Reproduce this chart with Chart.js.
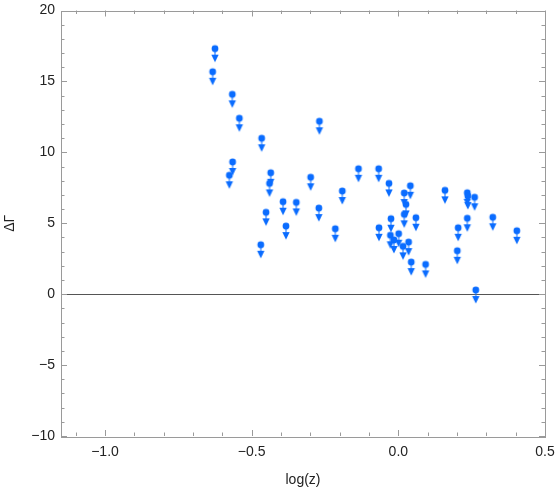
<!DOCTYPE html>
<html>
<head>
<meta charset="utf-8">
<script src="https://cdn.jsdelivr.net/npm/chart.js@4"></script>
<style>
  html, body { margin: 0; padding: 0; background: #fff; }
  #wrap { width: 556px; height: 492px; }
</style>
</head>
<body>
<div id="wrap"><canvas id="myChart" width="556" height="492"></canvas></div>
<script>
// log(z) of each source
var logz = [-0.625, -0.633, -0.566, -0.542, -0.466, -0.565, -0.576, -0.435, -0.439, -0.393,
            -0.348, -0.451, -0.383, -0.469, -0.269, -0.299, -0.136, -0.067, -0.032, -0.191,
            -0.271, -0.215, -0.066, 0.041, 0.020, 0.026, 0.020, 0.060, -0.025, -0.027,
            0.001, -0.015, 0.035, 0.016, 0.044, 0.093, 0.159, 0.235, 0.237, 0.260,
            0.235, 0.322, 0.204, 0.404, 0.201, 0.264];
// upper limits on delta gamma
var dgamma = [17.31, 15.68, 14.09, 12.40, 10.99, 9.32, 8.38, 8.56, 7.81, 6.52,
              6.47, 5.77, 4.80, 3.48, 12.19, 8.24, 8.84, 8.84, 7.81, 7.27,
              6.07, 4.61, 4.68, 7.64, 7.13, 6.33, 5.63, 5.39, 5.32, 4.15,
              4.26, 3.82, 3.67, 3.37, 2.26, 2.10, 7.32, 7.15, 6.92, 6.83,
              5.35, 5.42, 4.68, 4.47, 3.06, 0.29];

var xTicks = [-1.0, -0.5, 0.0, 0.5];
var yTicks = [-10, -5, 0, 5, 10, 15, 20];

var blue = '#0a6cff';
var ink = '#222';
var frameCol = '#9a9a9a';

var pts = [];
for (var i = 0; i < logz.length; i++) {
    pts.push({x: logz[i], y: dgamma[i]});
}

// marker: dot with a down arrow under it (upper limit)
function makeMarker() {
    var c = document.createElement('canvas');
    c.width = 10; c.height = 32;
    var g = c.getContext('2d');
    g.strokeStyle = blue;
    g.lineWidth = 1;
    g.beginPath(); g.moveTo(5, 16); g.lineTo(5, 23); g.stroke();
    g.fillStyle = blue;
    g.beginPath(); g.moveTo(1.3, 22); g.lineTo(8.7, 22); g.lineTo(5, 29.5); g.closePath(); g.fill();
    g.beginPath(); g.arc(5, 16, 3.4, 0, Math.PI * 2); g.fill();
    return c;
}

function minus(v, d) {
    var s = Math.abs(v).toFixed(d);
    return (v < 0 ? '\u2212' : '') + s;
}

var framePlugin = {
    id: 'frame',
    beforeDatasetsDraw: function(chart) {
        var ctx = chart.ctx, a = chart.chartArea;
        var xs = chart.scales.x, ys = chart.scales.y;
        ctx.save();
        // zero line
        var y0 = Math.round(ys.getPixelForValue(0)) + 0.5;
        ctx.strokeStyle = '#555';
        ctx.lineWidth = 1;
        ctx.beginPath(); ctx.moveTo(a.left, y0); ctx.lineTo(a.right, y0); ctx.stroke();

        ctx.strokeStyle = frameCol;
        ctx.strokeRect(Math.round(a.left) + 0.5, Math.round(a.top) + 0.5,
                       Math.round(a.right - a.left), Math.round(a.bottom - a.top));
        // x ticks, bottom and top
        for (var k = -11; k <= 5; k++) {
            var v = k / 10;
            var px = Math.round(xs.getPixelForValue(v)) + 0.5;
            var len = (k % 5 === 0) ? 6 : 3.5;
            ctx.beginPath();
            ctx.moveTo(px, a.bottom); ctx.lineTo(px, a.bottom - len);
            ctx.moveTo(px, a.top); ctx.lineTo(px, a.top + len);
            ctx.stroke();
        }
        // y ticks, left and right
        for (var m = -10; m <= 20; m++) {
            var py = Math.round(ys.getPixelForValue(m)) + 0.5;
            var ln = (m % 5 === 0) ? 6 : 3.5;
            ctx.beginPath();
            ctx.moveTo(a.left, py); ctx.lineTo(a.left + ln, py);
            ctx.moveTo(a.right, py); ctx.lineTo(a.right - ln, py);
            ctx.stroke();
        }
        ctx.restore();
    }
};

var ctx = document.getElementById('myChart').getContext('2d');
var myChart = new Chart(ctx, {
    type: 'scatter',
    data: {
        datasets: [{
            label: 'upper limits',
            data: pts,
            pointStyle: makeMarker(),
            pointRadius: 5,
            pointHoverRadius: 5
        }]
    },
    options: {
        responsive: false,
        animation: false,
        devicePixelRatio: 1,
        layout: { padding: { top: 10.5, right: 11, left: 0, bottom: 0 } },
        plugins: { legend: { display: false }, tooltip: { enabled: false } },
        scales: {
            x: {
                type: 'linear',
                min: -1.15, max: 0.5,
                afterBuildTicks: function(s) { s.ticks = xTicks.map(function(v) { return {value: v}; }); },
                afterFit: function(s) { s.height = 56; s.paddingLeft = 0; s.paddingRight = 0; },
                grid: { display: false, drawTicks: false },
                border: { display: false },
                ticks: {
                    padding: 8,
                    color: ink,
                    font: { family: 'Liberation Sans', size: 14 },
                    maxRotation: 0,
                    callback: function(v) { return minus(v, 1); }
                },
                title: {
                    display: true, text: 'log(z)', color: ink,
                    font: { family: 'Liberation Sans', size: 14 },
                    padding: { top: 0, bottom: 3 }
                }
            },
            y: {
                type: 'linear',
                min: -10, max: 20,
                afterBuildTicks: function(s) { s.ticks = yTicks.map(function(v) { return {value: v}; }); },
                afterFit: function(s) { s.width = 61; s.paddingTop = 0; s.paddingBottom = 0; },
                grid: { display: false, drawTicks: false },
                border: { display: false },
                ticks: {
                    padding: 6,
                    color: ink,
                    font: { family: 'Liberation Sans', size: 14 },
                    callback: function(v) { return minus(v, 0); }
                },
                title: {
                    display: true, text: '\u0394\u0393', color: ink,
                    font: { family: 'Liberation Sans', size: 14 },
                    padding: { top: 2, bottom: 0 }
                }
            }
        }
    },
    plugins: [framePlugin]
});
</script>
</body>
</html>
